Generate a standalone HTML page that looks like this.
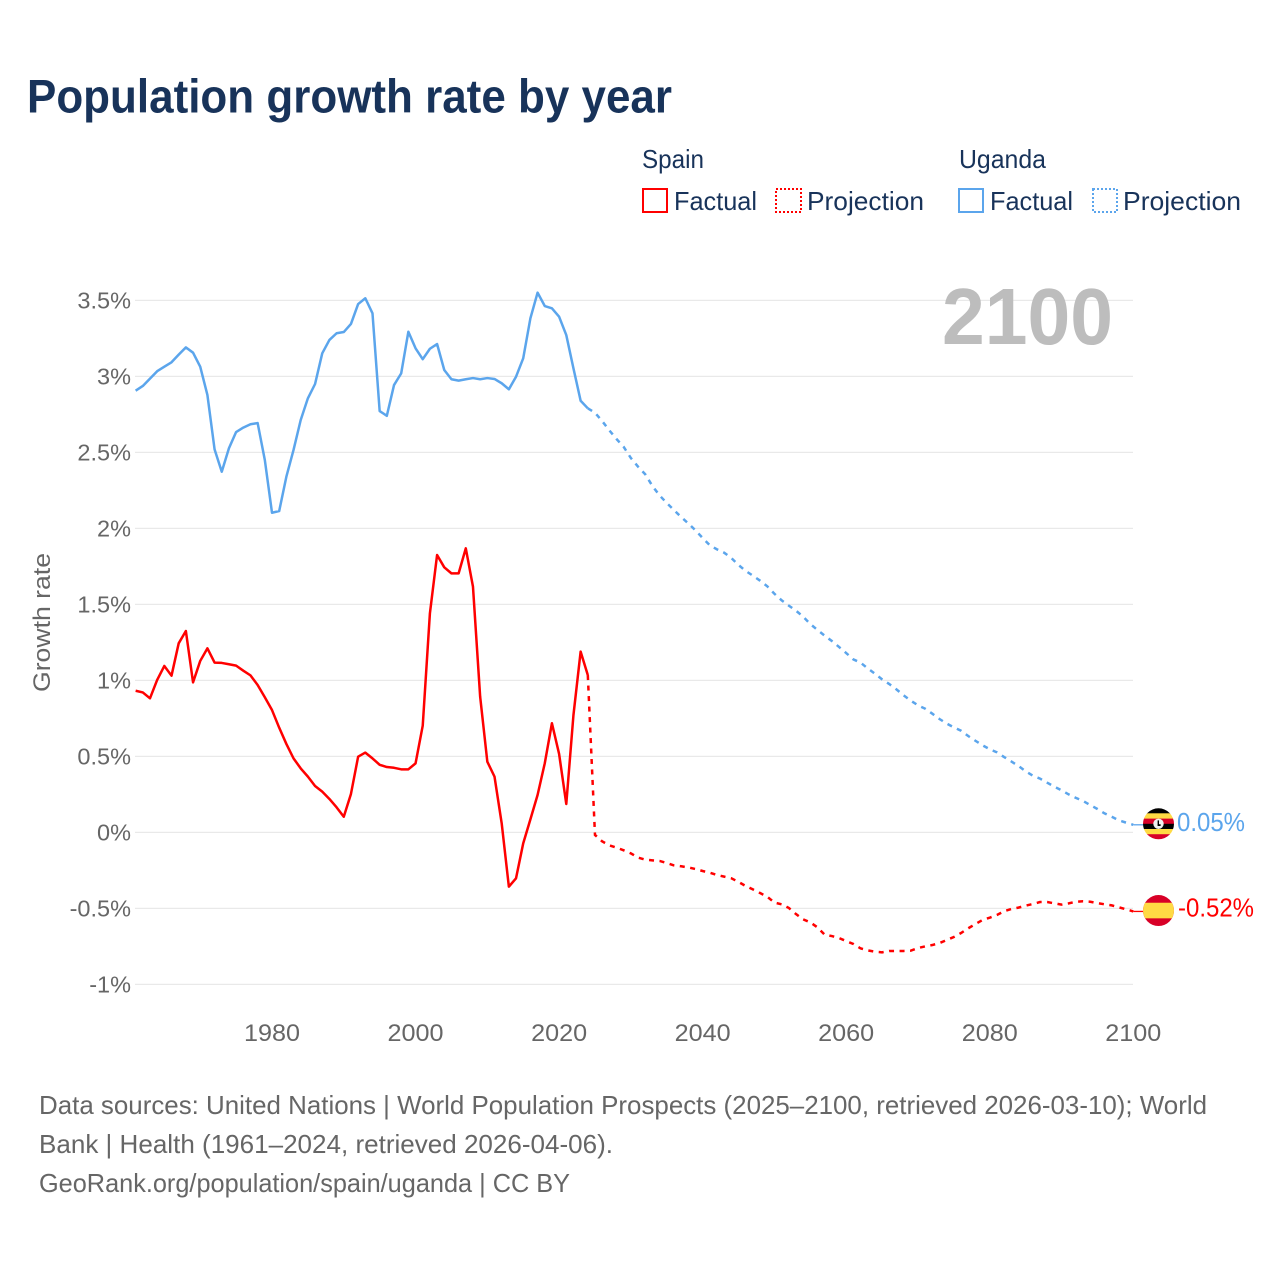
<!DOCTYPE html>
<html lang="en">
<head>
<meta charset="utf-8">
<title>Population growth rate by year</title>
<style>
  html, body { margin: 0; padding: 0; background: #fff; }
  svg { display: block; font-family: "Liberation Sans", sans-serif; }
</style>
</head>
<body>
<svg id="chart" xmlns="http://www.w3.org/2000/svg" width="1280" height="1280" viewBox="0 0 1280 1280">
  <defs>
    <clipPath id="clip-uganda"><circle cx="0" cy="0" r="15.5"></circle></clipPath>
    <clipPath id="clip-spain"><circle cx="0" cy="0" r="15.5"></circle></clipPath>
  </defs>
  <rect x="0" y="0" width="1280" height="1280" fill="#ffffff"></rect>
  <text x="27" y="112.5" font-size="47" font-weight="700" fill="#18335a" textLength="645" lengthAdjust="spacingAndGlyphs">Population growth rate by year</text>

  <g font-size="26" fill="#18335a">
    <text x="642" y="168" textLength="62" lengthAdjust="spacingAndGlyphs">Spain</text>
    <text x="959" y="168" textLength="87" lengthAdjust="spacingAndGlyphs">Uganda</text>
    <rect x="643" y="189" width="24" height="23" fill="none" stroke="#ff0000" stroke-width="2"></rect>
    <text x="674" y="210" textLength="83" lengthAdjust="spacingAndGlyphs">Factual</text>
    <rect x="776" y="189" width="25" height="23" fill="none" stroke="#ff0000" stroke-width="2" stroke-dasharray="2 2"></rect>
    <text x="807" y="210" textLength="117" lengthAdjust="spacingAndGlyphs">Projection</text>
    <rect x="959" y="189" width="24" height="23" fill="none" stroke="#5ba5ec" stroke-width="2"></rect>
    <text x="990" y="210" textLength="83" lengthAdjust="spacingAndGlyphs">Factual</text>
    <rect x="1093" y="189" width="24" height="23" fill="none" stroke="#5ba5ec" stroke-width="2" stroke-dasharray="2 2"></rect>
    <text x="1123" y="210" textLength="118" lengthAdjust="spacingAndGlyphs">Projection</text>
  </g>

  <g id="grid"></g>
  <text x="942" y="344" font-size="80" font-weight="700" fill="#bdbdbd" textLength="171" lengthAdjust="spacingAndGlyphs">2100</text>
  <g id="y-axis"></g>
  <g id="x-axis"></g>
  <text transform="translate(50,622.5) rotate(-90)" text-anchor="middle" font-size="24" fill="#666666" textLength="139" lengthAdjust="spacingAndGlyphs">Growth rate</text>
  <g id="series"></g>

  <g id="flag-uganda">
    <g clip-path="url(#clip-uganda)">
      <rect x="-16" y="-16" width="32" height="6" fill="#000000"></rect>
      <rect x="-16" y="-10.5" width="32" height="5.5" fill="#ffda44"></rect>
      <rect x="-16" y="-5.2" width="32" height="5.4" fill="#d80027"></rect>
      <rect x="-16" y="0" width="32" height="5.4" fill="#000000"></rect>
      <rect x="-16" y="5.2" width="32" height="5.4" fill="#ffda44"></rect>
      <rect x="-16" y="10.4" width="32" height="6" fill="#d80027"></rect>
      <circle cx="0" cy="0" r="5.2" fill="#f0f0f0"></circle>
      <rect x="-0.9" y="-3.4" width="1.4" height="5" fill="#000000"></rect>
      <rect x="-0.9" y="0.4" width="3" height="1.8" fill="#000000"></rect>
    </g>
  </g>
  <g id="flag-spain">
    <g clip-path="url(#clip-spain)">
      <rect x="-16" y="-16" width="32" height="32" fill="#d80027"></rect>
      <rect x="-16" y="-7.8" width="32" height="15.6" fill="#ffda44"></rect>
    </g>
  </g>
  <text id="end-label-uganda" font-size="26" fill="#5ba5ec" textLength="68" lengthAdjust="spacingAndGlyphs"></text>
  <text id="end-label-spain" font-size="26" fill="#ff0000" textLength="76" lengthAdjust="spacingAndGlyphs"></text>

  <g font-size="26" fill="#666666">
    <text x="39" y="1114" textLength="1168" lengthAdjust="spacingAndGlyphs">Data sources: United Nations | World Population Prospects (2025–2100, retrieved 2026-03-10); World</text>
    <text x="39" y="1153" textLength="574" lengthAdjust="spacingAndGlyphs">Bank | Health (1961–2024, retrieved 2026-04-06).</text>
    <text x="39" y="1192" textLength="531" lengthAdjust="spacingAndGlyphs">GeoRank.org/population/spain/uganda | CC BY</text>
  </g>
</svg>
<script>
const firstFactualYear = 1961;
const firstProjectionYear = 2025;
const yTickValues = [3.5, 3, 2.5, 2, 1.5, 1, 0.5, 0, -0.5, -1];
const yTickLabels = ["3.5%", "3%", "2.5%", "2%", "1.5%", "1%", "0.5%", "0%", "-0.5%", "-1%"];
const xTickYears = [1980, 2000, 2020, 2040, 2060, 2080, 2100];
const spainFactual = [0.932, 0.921, 0.882, 1.003, 1.095, 1.031, 1.244, 1.325, 0.987, 1.128, 1.211, 1.117, 1.115, 1.106, 1.097, 1.064, 1.033, 0.970, 0.889, 0.805, 0.689, 0.582, 0.487, 0.421, 0.367, 0.305, 0.268, 0.220, 0.165, 0.103, 0.253, 0.498, 0.525, 0.487, 0.445, 0.430, 0.425, 0.415, 0.415, 0.454, 0.702, 1.441, 1.825, 1.744, 1.704, 1.704, 1.869, 1.617, 0.893, 0.465, 0.367, 0.060, -0.357, -0.302, -0.072, 0.086, 0.246, 0.454, 0.718, 0.516, 0.187, 0.772, 1.189, 1.035];
const spainProjection = [-0.017, -0.059, -0.085, -0.100, -0.118, -0.138, -0.166, -0.179, -0.184, -0.188, -0.201, -0.217, -0.223, -0.230, -0.241, -0.254, -0.265, -0.280, -0.291, -0.302, -0.326, -0.353, -0.375, -0.399, -0.423, -0.462, -0.473, -0.497, -0.537, -0.572, -0.592, -0.625, -0.673, -0.682, -0.695, -0.715, -0.734, -0.763, -0.776, -0.785, -0.789, -0.780, -0.780, -0.780, -0.778, -0.761, -0.750, -0.741, -0.728, -0.708, -0.688, -0.662, -0.631, -0.603, -0.576, -0.561, -0.543, -0.519, -0.504, -0.495, -0.482, -0.471, -0.458, -0.458, -0.467, -0.475, -0.467, -0.456, -0.453, -0.456, -0.465, -0.473, -0.480, -0.493, -0.506, -0.520];
const ugandaFactual = [2.906, 2.937, 2.985, 3.034, 3.064, 3.093, 3.143, 3.191, 3.156, 3.064, 2.878, 2.520, 2.373, 2.527, 2.634, 2.663, 2.685, 2.693, 2.450, 2.103, 2.114, 2.340, 2.516, 2.713, 2.856, 2.950, 3.152, 3.240, 3.284, 3.292, 3.345, 3.476, 3.514, 3.415, 2.772, 2.741, 2.943, 3.020, 3.294, 3.185, 3.113, 3.182, 3.213, 3.042, 2.981, 2.972, 2.981, 2.989, 2.981, 2.989, 2.983, 2.955, 2.915, 2.998, 3.119, 3.382, 3.551, 3.463, 3.448, 3.393, 3.272, 3.053, 2.840, 2.790];
const ugandaProjection = [2.761, 2.706, 2.645, 2.588, 2.536, 2.463, 2.406, 2.356, 2.279, 2.217, 2.167, 2.121, 2.075, 2.033, 1.987, 1.937, 1.889, 1.862, 1.840, 1.805, 1.759, 1.720, 1.689, 1.656, 1.619, 1.570, 1.527, 1.492, 1.459, 1.419, 1.371, 1.332, 1.294, 1.259, 1.220, 1.180, 1.138, 1.117, 1.079, 1.044, 1.007, 0.976, 0.941, 0.902, 0.867, 0.836, 0.814, 0.781, 0.746, 0.716, 0.691, 0.669, 0.634, 0.603, 0.573, 0.547, 0.527, 0.496, 0.467, 0.437, 0.402, 0.373, 0.354, 0.327, 0.301, 0.277, 0.250, 0.227, 0.207, 0.180, 0.154, 0.125, 0.103, 0.079, 0.064, 0.050];
const spainEndLabel = "-0.52%";
const ugandaEndLabel = "0.05%";

const SVG_NS = "http://www.w3.org/2000/svg";
const RED = "#ff0000";
const BLUE = "#5ba5ec";
function xScale(year) { return 272 + (year - 1980) * 7.1775; }
function yScale(value) { return 832.4 - value * 152; }
function makeEl(tag, attrs, parent) {
  const el = document.createElementNS(SVG_NS, tag);
  for (const k in attrs) el.setAttribute(k, attrs[k]);
  parent.appendChild(el);
  return el;
}
function buildPath(points) {
  return points.map(function (p, i) {
    return (i ? "L" : "M") + xScale(p[0]).toFixed(2) + " " + yScale(p[1]).toFixed(2);
  }).join(" ");
}
function toPoints(startYear, values) {
  return values.map(function (v, i) { return [startYear + i, v]; });
}

const gridGroup = document.getElementById("grid");
const yAxisGroup = document.getElementById("y-axis");
const xAxisGroup = document.getElementById("x-axis");
const seriesGroup = document.getElementById("series");

yTickValues.forEach(function (v, i) {
  const line = makeEl("line", { x1: 135, x2: 1133, y1: yScale(v), y2: yScale(v), stroke: "#e9e9e9", "stroke-width": 1.3 }, gridGroup);
  
  
  const label = makeEl("text", { x: 131, y: yScale(v) + 8, "text-anchor": "end", "font-size": 23.5, fill: "#666666" }, yAxisGroup);
  
  
  label.textContent = yTickLabels[i];
});

xTickYears.forEach(function (year) {
  const label = makeEl("text", { x: xScale(year), y: 1041, "text-anchor": "middle", "font-size": 24, fill: "#666666", textLength: 56, lengthAdjust: "spacingAndGlyphs" }, xAxisGroup);
  
  
  label.textContent = year;
});

function drawCountry(factual, projection, colour) {
  const factualPts = toPoints(firstFactualYear, factual);
  const projectionPts = toPoints(firstProjectionYear, projection);
  const lastFactual = factualPts[factualPts.length - 1];
  const lastProjection = projectionPts[projectionPts.length - 1];
  const dashed = makeEl("path", { d: buildPath([lastFactual].concat(projectionPts)), fill: "none", stroke: colour, "stroke-width": 2.5, "stroke-dasharray": "5 5.5" }, seriesGroup);
  const solid = makeEl("path", { d: buildPath(factualPts), fill: "none", stroke: colour, "stroke-width": 2.5, "stroke-linejoin": "round" }, seriesGroup);
  const connector = makeEl("line", { x1: xScale(lastProjection[0]), x2: xScale(lastProjection[0]) + 10, y1: yScale(lastProjection[1]), y2: yScale(lastProjection[1]), stroke: colour, "stroke-width": 1.3 }, seriesGroup);
  return { dashed: dashed, solid: solid, connector: connector };
}
const spainMarks = drawCountry(spainFactual, spainProjection, RED);






const ugandaMarks = drawCountry(ugandaFactual, ugandaProjection, BLUE);







const ugandaEndY = yScale(ugandaProjection[ugandaProjection.length - 1]) - 1;
const spainEndY = yScale(spainProjection[spainProjection.length - 1]) - 0.9;
document.getElementById("flag-uganda").setAttribute("transform", "translate(1158.5," + ugandaEndY + ")");
document.getElementById("flag-spain").setAttribute("transform", "translate(1158.5," + spainEndY + ")");
const ugandaText = document.getElementById("end-label-uganda");
ugandaText.setAttribute("x", 1177);
ugandaText.setAttribute("y", ugandaEndY + 7);
ugandaText.textContent = ugandaEndLabel;
const spainText = document.getElementById("end-label-spain");
spainText.setAttribute("x", 1178);
spainText.setAttribute("y", spainEndY + 6);
spainText.textContent = spainEndLabel;
</script>
</body>
</html>
